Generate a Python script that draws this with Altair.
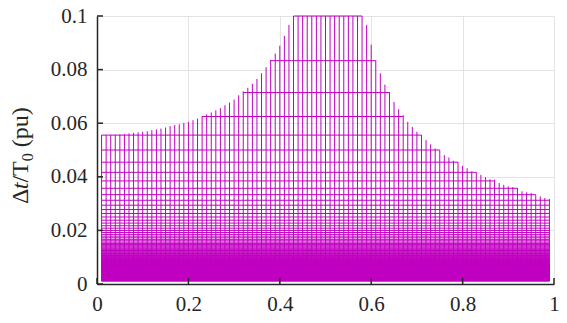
import altair as alt
import pandas as pd

# ---- data ----
stem_x = [i / 100 for i in range(1, 100)]  # 0.01 ... 0.99
stem_top = [
    0.0556, 0.0556, 0.0556, 0.0557, 0.0558, 0.0559, 0.0562, 0.0564, 0.0566, 0.0568,
    0.0570, 0.0574, 0.0577, 0.0580, 0.0584, 0.0589, 0.0593, 0.0596, 0.0601, 0.0605,
    0.0611, 0.0617, 0.0627, 0.0633, 0.0640, 0.0648, 0.0656, 0.0667, 0.0677, 0.0688,
    0.0704, 0.0719, 0.0732, 0.0747, 0.0765, 0.0786, 0.0809, 0.0836, 0.0860, 0.0889,
    0.0926, 0.0967,
    0.1, 0.1, 0.1, 0.1, 0.1, 0.1, 0.1, 0.1, 0.1, 0.1, 0.1, 0.1, 0.1, 0.1, 0.1, 0.1,
    0.0967, 0.0893, 0.0834, 0.0786, 0.0744, 0.0716, 0.0679, 0.0652, 0.0630, 0.0605,
    0.0586, 0.0568, 0.0556, 0.0537, 0.0521, 0.0506, 0.0500, 0.0481, 0.0472, 0.0460,
    0.0455, 0.0441, 0.0432, 0.0420, 0.0417, 0.0407, 0.0399, 0.0391, 0.0389, 0.0377,
    0.0370, 0.0364, 0.0362, 0.0358, 0.0346, 0.0342, 0.0340, 0.0334, 0.0327, 0.0321,
    0.0317,
]
# horizontal levels are Δt/T0 = 1/d for even divisors d
level_divisors = list(range(10, 802, 2))
x_ticks = [0, 0.2, 0.4, 0.6, 0.8, 1]
y_ticks = [0, 0.02, 0.04, 0.06, 0.08, 0.1]

levels = [1.0 / d for d in level_divisors]
lowest = min(levels)

stems = pd.DataFrame({"x": stem_x, "y0": [lowest] * len(stem_x), "top": stem_top})

rows = []
for h in levels:
    xs = [x for x, t in zip(stem_x, stem_top) if t >= h - 1e-4]
    if xs:
        rows.append({"x1": min(xs), "x2": max(xs), "h": h})
hlines = pd.DataFrame(rows)

COLOR = "#C000C0"
AX = "#262626"
FONT = "Liberation Serif"
W, H = 457, 268

xscale = alt.Scale(domain=[0, 1], nice=False, zero=False)
yscale = alt.Scale(domain=[0, 0.1], nice=False, zero=False)

xaxis = alt.Axis(values=x_ticks, format="~g", title=None, tickSize=0, labelFont=FONT,
                 labelFontSize=21, labelColor=AX, labelPadding=9, domainColor=AX,
                 domainWidth=1.5, grid=True, gridColor="#E3E3E3", gridWidth=1,
                 labelFlush=False)
yaxis = alt.Axis(values=y_ticks, format="~g", title=None, tickSize=0, labelFont=FONT,
                 labelFontSize=21, labelColor=AX, labelPadding=10, domainColor=AX,
                 domainWidth=1.5, grid=True, gridColor="#E3E3E3", gridWidth=1)

stem_layer = alt.Chart(stems).mark_rule(color=COLOR, strokeWidth=1).encode(
    x=alt.X("x:Q", scale=xscale, axis=xaxis),
    y=alt.Y("y0:Q", scale=yscale, axis=yaxis),
    y2="top:Q",
)

h_layer = alt.Chart(hlines).mark_rule(color=COLOR, strokeWidth=1).encode(
    x=alt.X("x1:Q", scale=xscale),
    x2="x2:Q",
    y=alt.Y("h:Q", scale=yscale),
)

xt = pd.DataFrame({"v": x_ticks})
yt = pd.DataFrame({"v": y_ticks})
xtick_layer = alt.Chart(xt).mark_rule(color=AX, strokeWidth=1.5).encode(
    x=alt.X("v:Q", scale=xscale), y=alt.value(H), y2=alt.value(H - 6))
ytick_layer = alt.Chart(yt).mark_rule(color=AX, strokeWidth=1.5).encode(
    y=alt.Y("v:Q", scale=yscale), x=alt.value(0), x2=alt.value(6))

# y-axis title: Δt/T0 (pu) with italic t and subscript 0
TS = 24
def piece(txt, y, x=-69, size=TS, style="normal"):
    return alt.Chart(pd.DataFrame({"s": [txt]})).mark_text(
        angle=270, align="left", baseline="alphabetic", font=FONT, fontSize=size,
        fontStyle=style, color=AX).encode(text="s:N", x=alt.value(x), y=alt.value(y))

y0 = 188
p1 = piece("Δ", y0)
p2 = piece("t", y0 - 14.7, style="italic")
p3 = piece("/T", y0 - 14.7 - 6.7)
p4 = piece("0", y0 - 14.7 - 6.7 - 21.3, x=-64, size=16)
p5 = piece("(pu)", y0 - 14.7 - 6.7 - 21.3 - 8 - 6)

chart = alt.layer(h_layer, stem_layer, xtick_layer, ytick_layer, p1, p2, p3, p4, p5).properties(
    width=W, height=H,
    autosize=alt.AutoSizeParams(type="none"),
    padding={"left": 89, "top": 8, "right": 5, "bottom": 30},
).configure_view(stroke=None)

chart.save("out.html", embed_options={"renderer": "svg", "actions": False})
